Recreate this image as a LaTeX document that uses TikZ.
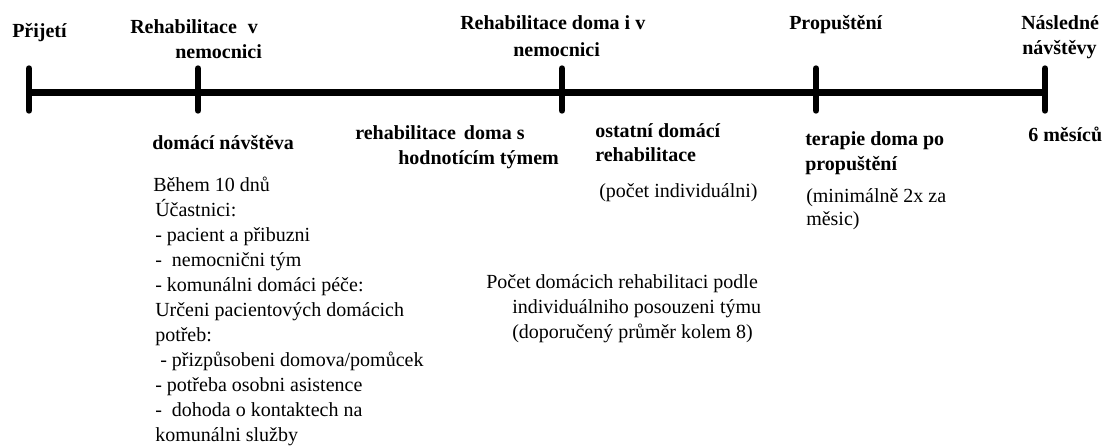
\documentclass[tikz,border=0pt]{standalone}
\usepackage{fontspec}
\setmainfont{Liberation Serif}
\begin{document}
\begin{tikzpicture}[x=0.75pt,y=-0.75pt,
  hd/.style={anchor=base west, inner sep=0pt, font=\fontsize{15}{18}\selectfont\bfseries},
  tx/.style={anchor=base west, inner sep=0pt, font=\fontsize{15}{18}\selectfont},
  axis/.style={line width=4.8pt},
  tickmark/.style={line width=4.8pt, line cap=round}]
\useasboundingbox (0,0) rectangle (1108,446);

% timeline points
\coordinate (p1) at (29,92.5);
\coordinate (p2) at (198,92.5);
\coordinate (p3) at (562,92.5);
\coordinate (p4) at (816,92.5);
\coordinate (p5) at (1045,92.5);

\draw[axis] (p1) -- (p5);
\foreach \p in {p1,p2,p3,p4,p5}
  \draw[tickmark] ([yshift=18pt]\p) -- ([yshift=-13.5pt]\p);

% milestones above the line
\node[hd] (prij) at (12,37) {Přijetí};
\node[hd] (rn1) at (130,33) {Rehabilitace\hspace{0.55em}v};
\node[hd] (rn2) at (175,58) {nemocnici};
\node[hd] (rd1) at (460,30) {Rehabilitace doma i v};
\node[hd] (rd2) at (513,56) {nemocnici};
\node[hd] (pro) at (789,30) {Propuštění};
\node[hd] (nas1) at (1021,30) {Následné};
\node[hd] (nas2) at (1022,55) {návštěvy};

% phases below the line
\node[hd] (dn) at (152,149) {domácí návštěva};
\node[tx] (b1) at (153,191) {Během 10 dnů};
\node[tx] (b2) at (155,216) {Účastnici:};
\node[tx] (b3) at (155,241) {- pacient a přibuzni};
\node[tx] (b4) at (155,266) {-\ \ nemocnični tým};
\node[tx] (b5) at (155,291) {- komunálni domáci péče:};
\node[tx] (b6) at (155,316) {Určeni pacientových domácich};
\node[tx] (b7) at (155,341) {potřeb:};
\node[tx] (b8) at (160,366) {- přizpůsobeni domova/pomůcek};
\node[tx] (b9) at (155,391) {- potřeba osobni asistence};
\node[tx] (b10) at (155,416) {-\ \ dohoda o kontaktech na};
\node[tx] (b11) at (155,441) {komunálni služby};

\node[hd] (rh1) at (355,139) {rehabilitace\hspace{0.4em}doma s};
\node[hd] (rh2) at (398,164) {hodnotícím týmem};

\node[hd] (os1) at (595,137) {ostatní domácí};
\node[hd] (os2) at (595,161) {rehabilitace};
\node[tx] (pi) at (599,197) {(počet individuálni)};

\node[tx] (pc1) at (486,288) {Počet domácich rehabilitaci podle};
\node[tx] (pc2) at (512,313) {individuálniho posouzeni týmu};
\node[tx] (pc3) at (512,338) {(doporučený průměr kolem 8)};

\node[hd] (tp1) at (805,145) {terapie doma po};
\node[hd] (tp2) at (805,170) {propuštění};
\node[tx] (mn1) at (806,202) {(minimálně 2x za};
\node[tx] (mn2) at (806,225) {měsic)};

\node[hd] (sm) at (1028,141) {6 měsíců};
\end{tikzpicture}
\end{document}
